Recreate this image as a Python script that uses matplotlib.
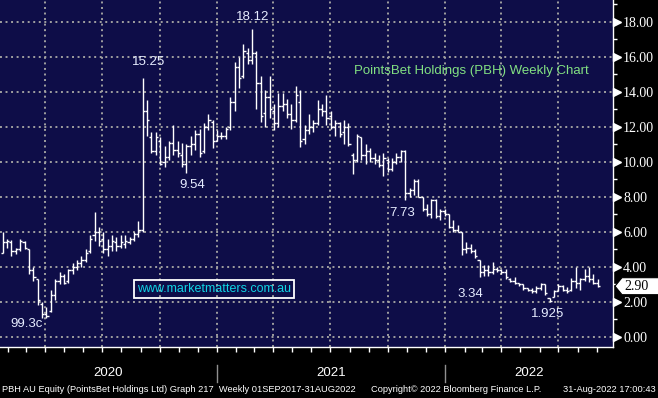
import numpy as np
import pandas as pd
import matplotlib
matplotlib.use('Agg')
import matplotlib.pyplot as plt
import matplotlib.dates as mdates
from matplotlib.patches import Polygon
from matplotlib.transforms import ScaledTranslation

# weekly bars, PBH AU
week_dates = pd.date_range('2020-01-24', periods=137, freq='7D')

opens = [4.8, 5.4, 5.4, 4.9, 5.0, 5.4, 5.0, 3.8, 3.3, 1.9,
         1.3, 1.5, 2.4, 3.2, 3.5, 3.2, 3.8, 4.0, 4.2, 4.4,
         4.9, 5.8, 6.0, 5.6, 5.0, 5.2, 5.4, 5.2, 5.3, 5.4,
         5.6, 5.9, 6.1, 12.9, 11.4, 10.6, 11.2, 10.0, 10.3, 11.1,
         10.7, 10.4, 9.9, 10.9, 11.0, 11.6, 10.6, 12.0, 12.3, 11.2,
         11.5, 11.5, 12.0, 13.4, 15.4, 14.9, 16.2, 15.8, 16.2, 14.5,
         12.8, 13.7, 12.9, 12.2, 13.2, 13.3, 12.7, 12.4, 13.4, 11.3,
         11.8, 12.0, 12.2, 13.0, 12.9, 12.6, 12.0, 12.2, 11.7, 12.0,
         10.4, 10.1, 11.4, 10.4, 10.6, 10.2, 10.1, 9.8, 10.1, 9.6,
         10.0, 10.3, 10.6, 8.2, 8.4, 8.9, 8.0, 7.3, 7.0, 7.8,
         6.9, 7.2, 7.0, 6.3, 6.1, 6.0, 5.0, 5.1, 4.9, 4.4,
         3.7, 3.8, 3.7, 3.9, 3.8, 3.7, 3.3, 3.2, 3.1, 3.0,
         2.8, 2.7, 2.6, 2.8, 3.0, 2.2, 2.3, 2.6, 2.9, 2.7,
         2.7, 3.2, 3.1, 3.3, 3.5, 3.3, 3.1]
highs = [6.0, 5.6, 5.55, 5.1, 5.6, 5.5, 5.0, 4.0, 3.3, 2.0,
         1.7, 2.7, 3.3, 3.7, 3.6, 3.9, 4.2, 4.4, 4.6, 5.0,
         5.8, 7.15, 6.3, 6.0, 5.6, 5.8, 5.7, 5.8, 5.8, 5.7,
         6.0, 6.6, 14.8, 13.5, 11.7, 11.7, 11.4, 10.9, 11.2, 12.1,
         11.2, 11.1, 11.0, 11.5, 11.8, 11.9, 12.2, 12.7, 12.4, 11.8,
         11.7, 12.0, 13.7, 15.7, 16.0, 16.7, 16.5, 17.6, 16.3, 14.9,
         14.1, 14.9, 13.3, 13.9, 13.9, 13.6, 13.3, 14.3, 14.1, 12.1,
         12.7, 12.4, 13.5, 13.3, 13.8, 12.9, 12.4, 12.3, 12.4, 12.2,
         10.5, 11.6, 11.4, 11.0, 10.8, 10.5, 10.4, 10.5, 10.2, 10.2,
         10.5, 10.7, 10.7, 8.5, 9.0, 9.0, 8.0, 7.6, 7.9, 7.9,
         7.3, 7.3, 7.0, 6.7, 6.4, 6.0, 5.4, 5.3, 5.0, 4.4,
         4.1, 4.1, 4.3, 4.0, 3.9, 3.9, 3.35, 3.4, 3.1, 3.05,
         2.8, 2.8, 2.9, 3.1, 3.0, 2.2, 2.7, 3.05, 2.95, 2.85,
         3.35, 4.0, 3.35, 3.9, 4.0, 3.6, 3.3]
lows = [4.8, 5.1, 4.6, 4.75, 4.9, 5.0, 3.6, 3.2, 1.8, 1.1,
        1.06, 1.4, 2.1, 3.0, 3.0, 3.1, 3.6, 3.8, 4.0, 4.3,
        4.8, 5.5, 5.2, 4.8, 4.6, 4.9, 4.9, 5.1, 5.1, 5.3,
        5.5, 5.7, 6.0, 11.5, 10.5, 10.4, 9.8, 9.7, 10.1, 10.4,
        10.3, 9.7, 9.35, 10.4, 10.7, 10.3, 10.5, 11.8, 10.8, 11.2,
        11.3, 11.3, 11.8, 12.9, 14.2, 14.8, 15.6, 15.6, 13.0, 12.3,
        12.0, 12.5, 11.8, 12.0, 12.9, 12.5, 11.9, 12.3, 10.85, 11.0,
        11.6, 11.7, 12.1, 12.6, 12.1, 11.9, 11.5, 11.4, 11.0, 10.9,
        9.3, 10.0, 10.1, 9.9, 10.0, 9.9, 9.7, 9.2, 9.4, 9.5,
        9.9, 10.0, 7.8, 8.0, 8.1, 8.0, 7.2, 6.9, 6.8, 6.8,
        6.7, 6.9, 6.2, 6.0, 6.0, 4.67, 4.8, 4.8, 4.5, 3.44,
        3.5, 3.5, 3.6, 3.7, 3.6, 3.3, 3.15, 3.0, 2.9, 2.7,
        2.6, 2.5, 2.5, 2.7, 2.4, 2.0, 2.3, 2.6, 2.65, 2.5,
        2.6, 2.8, 2.7, 3.2, 3.15, 3.0, 2.85]
closes = [5.4, 5.5, 4.9, 5.0, 5.5, 5.1, 3.8, 3.4, 2.1, 1.3,
          1.2, 2.4, 3.2, 3.5, 3.1, 3.8, 4.0, 4.2, 4.4, 4.8,
          5.6, 6.0, 5.5, 5.0, 5.2, 5.5, 5.2, 5.4, 5.5, 5.6,
          5.9, 6.1, 12.9, 12.4, 10.6, 11.4, 9.9, 10.3, 11.1, 10.7,
          10.5, 9.9, 10.9, 11.0, 11.6, 10.5, 12.0, 12.4, 11.2, 11.5,
          11.5, 11.9, 13.4, 15.4, 14.8, 16.3, 15.8, 16.2, 14.5, 12.6,
          13.7, 13.0, 12.2, 13.2, 13.3, 12.7, 12.4, 13.8, 11.2, 11.8,
          12.0, 12.2, 13.0, 12.9, 12.5, 12.0, 12.2, 11.6, 12.0, 11.0,
          10.1, 11.5, 10.4, 10.6, 10.2, 10.1, 9.8, 10.2, 9.6, 10.0,
          10.3, 10.6, 8.2, 8.4, 8.9, 8.0, 7.3, 7.0, 7.8, 6.9,
          7.2, 7.0, 6.3, 6.1, 6.0, 5.0, 5.1, 4.9, 4.6, 3.7,
          3.8, 3.7, 3.9, 3.8, 3.7, 3.4, 3.2, 3.1, 3.0, 2.8,
          2.7, 2.6, 2.8, 3.0, 2.5, 2.05, 2.6, 2.9, 2.7, 2.6,
          3.2, 3.1, 3.3, 3.5, 3.3, 3.1, 2.9]

price_ticks = np.arange(0, 19, 2)
years = [2020, 2021, 2022]
last_price = 2.90

mark_texts = ['15.25', '18.12', '9.54', '99.3c', '7.73', '3.34', '1.925']
mark_bars = [32, 57, 42, 10, 92, 109, 125]
mark_sides = ['high', 'high', 'low', 'low', 'low', 'low', 'low']

chart_title = 'PointsBet Holdings (PBH) Weekly Chart'
site = 'www.marketmatters.com.au'
footer_left = 'PBH AU Equity (PointsBet Holdings Ltd) Graph 217  Weekly 01SEP2017-31AUG2022'
footer_mid = 'Copyright\u00a9 2022 Bloomberg Finance L.P.'
footer_right = '31-Aug-2022 17:00:43'

navy = '#0e0d48'
sans = 'Liberation Sans'
serif = 'Liberation Serif'

fig = plt.figure(figsize=(6.58, 3.98), dpi=100, facecolor='black')
ax = fig.add_axes([0, 51/398, 613/658, 347/398])
ax.set_facecolor(navy)

x = mdates.date2num(week_dates)
left = x[0] - 4.32
right = left + 980.8
ax.set_xlim(left, right)
ax.set_ylim(-0.571, 19.235)

# dotted grid
grid_kw = dict(color='#a0a0a0', lw=1.4, linestyle=(0, (1, 1.85)), zorder=1)
for p in price_ticks:
    ax.axhline(p, **grid_kw)
for q in pd.date_range('2020-01-01', '2022-12-31', freq='QS'):
    qn = mdates.date2num(q)
    if left < qn < right:
        ax.axvline(qn, **grid_kw)

# OHLC bars
tick_w = 3.5
ax.vlines(x, lows, highs, color='white', lw=1.0, zorder=3)
ax.hlines(opens, x - tick_w, x, color='white', lw=1.0, zorder=3)
ax.hlines(closes, x, x + tick_w, color='white', lw=1.0, zorder=3)

# spines / ticks
for s in ['top', 'left']:
    ax.spines[s].set_visible(False)
for s in ['right', 'bottom']:
    ax.spines[s].set_color('white')
    ax.spines[s].set_linewidth(1.0)

ax.yaxis.tick_right()
ax.set_yticks(price_ticks)
ax.set_yticklabels([f'{v:.2f}' for v in price_ticks])
ax.set_yticks(np.arange(1, 20, 2), minor=True)
ax.tick_params(axis='y', which='major', length=0, pad=7.2, labelsize=10,
               labelcolor='white', labelfontfamily=serif)
ax.tick_params(axis='y', which='minor', length=3, width=1, color='white')

tri_trans = ax.get_yaxis_transform() + ScaledTranslation(4/100, 0, fig.dpi_scale_trans)
ax.plot(np.ones(len(price_ticks)), price_ticks, ls='none', marker='>', ms=5.5,
        color='white', transform=tri_trans, clip_on=False, zorder=5)

ax.xaxis.set_major_locator(mdates.MonthLocator())
ax.tick_params(axis='x', which='major', length=3.5, width=1, color='white',
               direction='out', labelbottom=False)

# year labels and separators
for yr in years:
    y0 = max(mdates.date2num(pd.Timestamp(f'{yr}-01-01')), left)
    y1 = min(mdates.date2num(pd.Timestamp(f'{yr + 1}-01-01')), right)
    ax.annotate(str(yr), xy=((y0 + y1) / 2, 0), xycoords=('data', 'axes fraction'),
                xytext=(0, -18.7), textcoords='offset points', ha='center', va='center',
                color='white', fontsize=9.5, family=sans, annotation_clip=False)
    if yr > years[0]:
        ax.plot([y0, y0], [-18/347, -35/347], color='#909090', lw=1,
                transform=ax.get_xaxis_transform(), clip_on=False)

# labelled highs/lows
label_offsets = [(4.5, 11.0), (0.6, 8.1), (4.0, -8.5), (-14, -4.0),
                 (-2.3, -9.1), (-6.9, -12.5), (-1.2, -8.6)]
for txt, b, side, off in zip(mark_texts, mark_bars, mark_sides, label_offsets):
    yv = highs[b] if side == 'high' else lows[b]
    ax.annotate(txt, xy=(x[b], yv), xytext=off, textcoords='offset points',
                ha='center', va='center', color='#e6ecff', fontsize=9.5, family=sans,
                zorder=6)

ax.text(354/613, 1 - 71/347, chart_title, transform=ax.transAxes, color='#82e082',
        fontsize=9.5, family=sans, va='center', ha='left')
ax.text(214/613, 1 - 289/347, site, transform=ax.transAxes, color='#10d4e4',
        fontsize=9, family=sans, va='center', ha='center',
        bbox=dict(boxstyle='square,pad=0.22', fc='none', ec='white', lw=1.3))

# last price flag
flag_trans = fig.dpi_scale_trans + ScaledTranslation(1.0, last_price, ax.get_yaxis_transform())
flag = Polygon([(0.02, 0), (0.09, 0.085), (0.46, 0.085), (0.46, -0.085), (0.09, -0.085)],
               closed=True, fc='white', ec='black', lw=0.8, transform=flag_trans,
               clip_on=False, zorder=6)
ax.add_patch(flag)
ax.annotate(f'{last_price:.2f}', xy=(1.0, last_price), xycoords=('axes fraction', 'data'),
            xytext=(7.9, 0), textcoords='offset points', ha='left', va='center',
            color='black', fontsize=10, family=serif, zorder=7, annotation_clip=False)

# footer
fy = (398 - 390) / 398
fig.text(2/658, fy, footer_left, color='white', fontsize=6.7, family=sans, va='center')
fig.text(371/658, fy, footer_mid, color='white', fontsize=6.7, family=sans, va='center')
fig.text(656/658, fy, footer_right, color='white', fontsize=6.7, family=sans,
         va='center', ha='right')

fig.savefig('out.png', dpi=100, facecolor='black')
